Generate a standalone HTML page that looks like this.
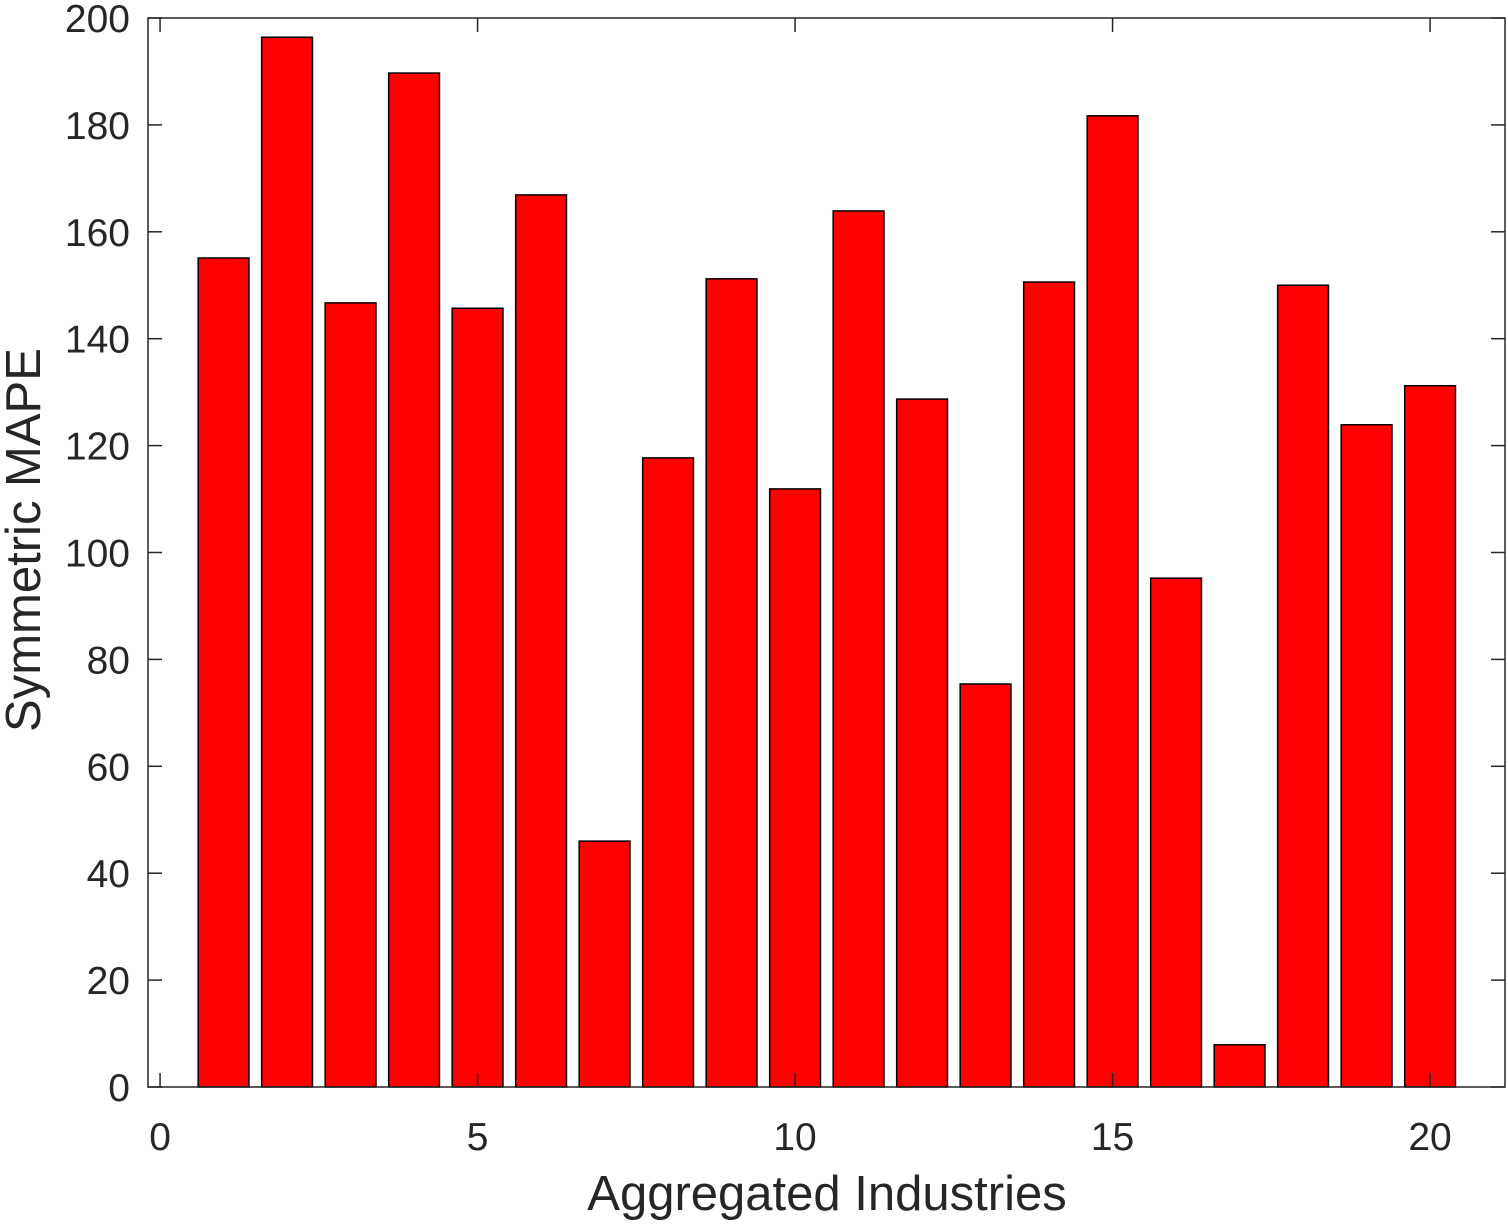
<!DOCTYPE html>
<html><head><meta charset="utf-8"><style>body{margin:0;background:#fff}svg{display:block}text{font-family:"Liberation Sans",sans-serif;fill:#262626}</style></head>
<body>
<svg id="chart" width="1508" height="1225" viewBox="0 0 1508 1225" xmlns="http://www.w3.org/2000/svg"></svg>
<script>
const categories=[1,2,3,4,5,6,7,8,9,10,11,12,13,14,15,16,17,18,19,20];
const values=[155.1,196.4,146.7,189.7,145.7,166.9,46.0,117.7,151.2,111.9,163.9,128.7,75.4,150.6,181.7,95.2,7.9,150.0,123.9,131.2];
const yTicks=[0,20,40,60,80,100,120,140,160,180,200];
const xTicks=[0,5,10,15,20];
const L=148,R=1505,T=18,B=1087;
const xMin=-0.19,xMax=21.18,yMin=0,yMax=200;
const sx=v=>L+(v-xMin)/(xMax-xMin)*(R-L);
const sy=v=>B-(v-yMin)/(yMax-yMin)*(B-T);
const svg=document.getElementById('chart');
const NS='http://www.w3.org/2000/svg';
function mk(t,a){const e=document.createElementNS(NS,t);for(const k in a)e.setAttribute(k,a[k]);svg.appendChild(e);return e;}
categories.forEach((c,i)=>{
  const x0=sx(c-0.4),x1=sx(c+0.4);
  const r=mk('rect',{x:x0,y:sy(values[i]),width:x1-x0,height:sy(0)-sy(values[i]),fill:'#ff0000',stroke:'#000','stroke-width':1.5});
  
  
});
const ax=mk('rect',{x:L,y:T,width:R-L,height:B-T,fill:'none',stroke:'#262626','stroke-width':1.5});


yTicks.forEach(v=>{
  const y=sy(v);
  mk('line',{x1:L,x2:L+14,y1:y,y2:y,stroke:'#262626','stroke-width':1.5});
  mk('line',{x1:R,x2:R-14,y1:y,y2:y,stroke:'#262626','stroke-width':1.5});
  const t=mk('text',{x:L-18,y:y+14,'text-anchor':'end','font-size':39});
  t.textContent=v;
  
  
});
xTicks.forEach(v=>{
  const x=sx(v);
  mk('line',{x1:x,x2:x,y1:B,y2:B-14,stroke:'#262626','stroke-width':1.5});
  mk('line',{x1:x,x2:x,y1:T,y2:T+14,stroke:'#262626','stroke-width':1.5});
  const t=mk('text',{x:x,y:B+63,'text-anchor':'middle','font-size':39});
  t.textContent=v;
  
  
});
const xt=mk('text',{x:827,y:1210,'text-anchor':'middle','font-size':49});
xt.textContent='Aggregated Industries';


const yt=mk('text',{x:0,y:0,'text-anchor':'middle','font-size':49,transform:'translate(40,540) rotate(-90)'});
yt.textContent='Symmetric MAPE';


</script>
</body></html>
